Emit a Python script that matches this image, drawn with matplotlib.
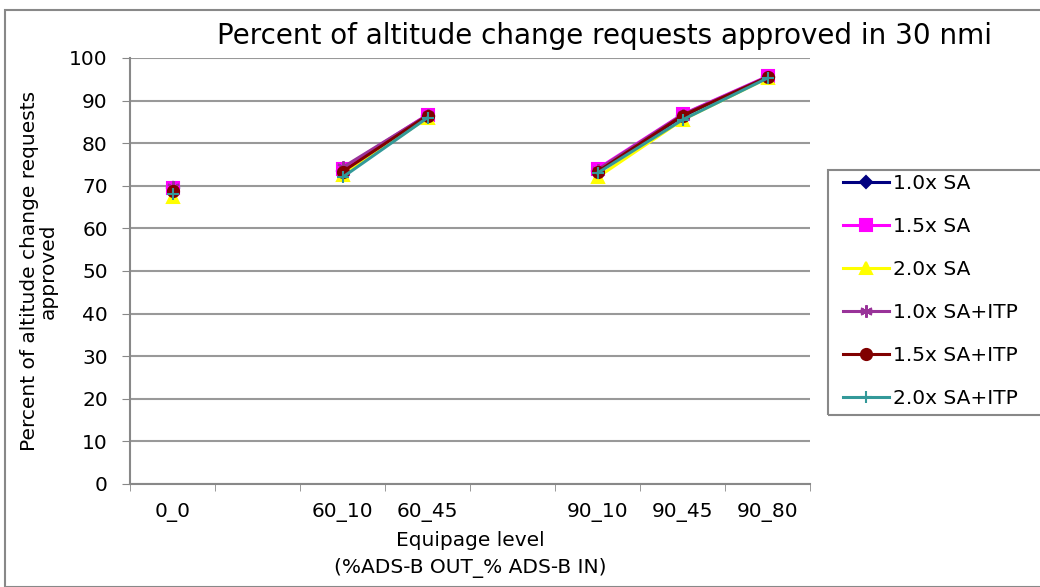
import numpy as np
import matplotlib
matplotlib.use("Agg")
import matplotlib.pyplot as plt
from matplotlib.patches import Rectangle

plt.rcParams['font.family'] = ['DejaVu Sans']

categories = ["0_0", "", "60_10", "60_45", "", "90_10", "90_45", "90_80"]
nan = np.nan
sa_10 = [69.5, nan, 73.5, 86.5, nan, 73.5, 86.3, 95.5]
sa_15 = [69.5, nan, 74.0, 86.7, nan, 74.0, 86.8, 95.7]
sa_20 = [67.3, nan, 72.5, 86.0, nan, 72.0, 85.5, 95.3]
sa_10_itp = [69.8, nan, 74.3, 86.6, nan, 73.8, 86.7, 95.6]
sa_15_itp = [68.8, nan, 73.3, 86.5, nan, 73.3, 86.5, 95.5]
sa_20_itp = [68.0, nan, 72.0, 86.0, nan, 73.0, 85.5, 95.3]

series = [
    ("1.0x SA", sa_10, "#000080", "D", 6),
    ("1.5x SA", sa_15, "#FF00FF", "s", 8),
    ("2.0x SA", sa_20, "#FFFF00", "^", 8),
    ("1.0x SA+ITP", sa_10_itp, "#993399", (6, 2, 0), 9),
    ("1.5x SA+ITP", sa_15_itp, "#800000", "o", 8),
    ("2.0x SA+ITP", sa_20_itp, "#339999", "+", 9),
]

W, H = 1040, 587
fig = plt.figure(figsize=(W / 100, H / 100), dpi=100)
ax = fig.add_axes([0.125, 0.1755, 0.654, 0.7257])

x = np.arange(len(categories))
for name, vals, col, mk, ms in series:
    ax.plot(x, vals, color=col, marker=mk, markersize=ms, linewidth=2.2,
            label=name, markeredgecolor=col, markerfacecolor=col,
            markeredgewidth=1.5)

ax.set_xlim(-0.5, len(categories) - 0.5)
ax.set_ylim(0, 100)
ax.set_yticks(np.arange(0, 101, 10))
ax.yaxis.grid(True, color="#999999", linewidth=1.5)
ax.set_axisbelow(True)

ax.set_xticks(x)
ax.set_xticklabels(categories, fontsize=14.5)
ax.set_xticks(np.arange(-0.5, len(categories)), minor=True)
ax.tick_params(axis='x', which='major', length=0, pad=14)
ax.tick_params(axis='x', which='minor', length=5, color="#888888", direction='out')
ax.tick_params(axis='y', length=6, color="#888888", labelsize=14.5, pad=10)

for s in ['top', 'right']:
    ax.spines[s].set_visible(False)
for s in ['left', 'bottom']:
    ax.spines[s].set_color("#888888")
    ax.spines[s].set_linewidth(1.5)

ax.set_title("Percent of altitude change requests approved in 30 nmi",
             fontsize=20, pad=10, x=0.697)
ax.set_xlabel("Equipage level\n(%ADS-B OUT_% ADS-B IN)", fontsize=14.5,
              labelpad=6, linespacing=1.55)
ax.set_ylabel("Percent of altitude change requests\napproved", fontsize=14.5,
              linespacing=1.0, labelpad=8)

leg = fig.legend(loc='upper left', bbox_to_anchor=(834 / W, 1 - 165 / H),
                 fontsize=14.5, frameon=False,
                 handlelength=2.3, labelspacing=1.19, borderpad=0.45,
                 handletextpad=0.2, borderaxespad=0)

fig.patches.append(Rectangle((828 / W, 1 - 415 / H), 220 / W, 245 / H,
                             transform=fig.transFigure, fill=False,
                             edgecolor="#888888", linewidth=1.5))
fig.patches.append(Rectangle((5 / W, 0), 1.2, 1 - 10 / H,
                             transform=fig.transFigure, fill=False,
                             edgecolor="#888888", linewidth=1.5))

fig.savefig("out.png", dpi=100)
